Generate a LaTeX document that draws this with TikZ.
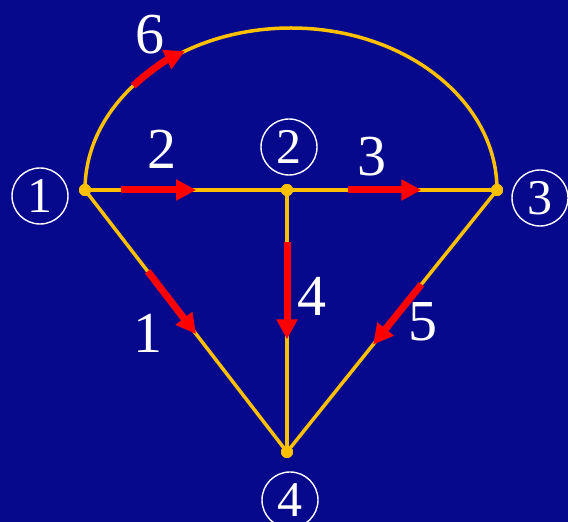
\documentclass[tikz,border=0pt]{standalone}
\usepackage{fontspec}
\setmainfont{Liberation Serif}
\usetikzlibrary{arrows.meta,calc}
\definecolor{board}{HTML}{06098C}
\definecolor{wire}{HTML}{FFC000}
\definecolor{flow}{HTML}{FF0000}

\begin{document}
\begin{tikzpicture}[x=1pt,y=1pt,
  edgeline/.style={draw=wire,line width=3.5pt},
  flowarrow/.style={draw=flow,line width=7pt,-{Triangle[length=20pt,width=20pt]}},
  dot/.style={circle,fill=wire,inner sep=0pt,minimum size=12pt},
  vlabel/.style={circle,draw=white,line width=1.4pt,minimum size=56pt,inner sep=0pt,text=white,font=\fontsize{50}{50}\selectfont},
  elabel/.style={text=white,inner sep=0pt,font=\fontsize{58}{58}\selectfont}]
\useasboundingbox (0,0) rectangle (568,522);
\fill[board] (0,0) rectangle (568,522);
% vertices
\coordinate (ctr) at (291,332);
\node[dot] (n1) at (85,332) {};
\node[dot] (n2) at (287,332) {};
\node[dot] (n3) at (497,332) {};
\node[dot] (n4) at (287,70) {};
% edges
\draw[edgeline] (n1.center) arc[start angle=180,end angle=0,x radius=206,y radius=162];
\draw[edgeline] (n1.center) -- (n2.center) -- (n3.center);
\draw[edgeline] (n1.center) -- (n4.center);
\draw[edgeline] (n2.center) -- (n4.center);
\draw[edgeline] (n3.center) -- (n4.center);
\node[dot] at (n1) {}; \node[dot] at (n2) {}; \node[dot] at (n3) {}; \node[dot] at (n4) {};
% flow directions
\draw[flowarrow] ([shift={(140:206 and 162)}]ctr) arc[start angle=140,end angle=121,x radius=206,y radius=162];
\draw[flowarrow] ($(n1)!0.18!(n2)$) -- ($(n1)!0.55!(n2)$);
\draw[flowarrow] ($(n2)!0.29!(n3)$) -- ($(n2)!0.64!(n3)$);
\draw[flowarrow,xshift=-4pt] ($(n2)!0.2!(n4)$) -- ($(n2)!0.57!(n4)$);
\draw[flowarrow] ($(n1)!0.31!(n4)$) -- ($(n1)!0.55!(n4)$);
\draw[flowarrow] ($(n3)!0.36!(n4)$) -- ($(n3)!0.59!(n4)$);
% vertex labels
\node[vlabel] (c1) at (40,326) {1};
\node[vlabel] (c2) at (289,375) {2};
\node[vlabel] (c3) at (540,324) {3};
\node[vlabel] (c4) at (290,22) {4};
% edge labels
\node[elabel] (l6) at (150,487) {6};
\node[elabel] (l2) at (162,373) {2};
\node[elabel] (l3) at (372,365) {3};
\node[elabel] (l4) at (312,226) {4};
\node[elabel] (l1) at (148,189) {1};
\node[elabel] (l5) at (423,200) {5};
\end{tikzpicture}
\end{document}
